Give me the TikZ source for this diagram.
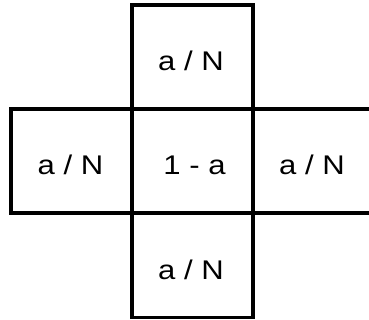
\documentclass[tikz,border=0pt]{standalone}
\usepackage{fontspec}
\setmainfont{Liberation Sans}
\begin{document}
\begin{tikzpicture}[x=1pt,y=-1pt,
  cell/.style={draw=black,line width=3.2pt,rectangle,inner sep=0pt,
    minimum width=121pt,minimum height=104pt},
  lab/.style={inner sep=0pt,font=\fontsize{27}{30}\selectfont}]
\useasboundingbox (0,0) rectangle (369,320);
\begin{scope}
\clip (0,0) rectangle (369,320);
\node[cell] (top) at (192.5,57) {};
\node[cell] (left) at (71.5,161) {};
\node[cell] (mid) at (192.5,161) {};
\node[cell] (right) at (313.5,161) {};
\node[cell] (bot) at (192.5,265.5) {};
\end{scope}
\node[lab] (ttop) at (191,61) {\scalebox{1.15}[1]{a / N}};
\node[lab] (tleft) at (70.5,165) {\scalebox{1.15}[1]{a / N}};
\node[lab] (tmid) at (194.5,165) {\scalebox{1.15}[1]{1 - a}};
\node[lab] (tright) at (312,165) {\scalebox{1.15}[1]{a / N}};
\node[lab] (tbot) at (191,270) {\scalebox{1.15}[1]{a / N}};
\end{tikzpicture}
\end{document}
